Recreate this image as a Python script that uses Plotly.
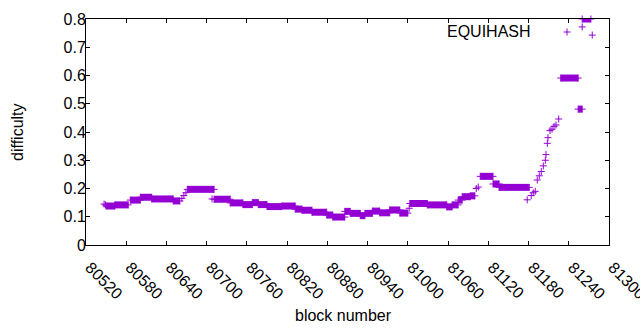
import plotly.graph_objects as go

# Runs of constant difficulty: first block, last block, difficulty
run_start = [80550, 80563, 80586, 80601, 80618, 80650, 80671, 80711, 80735, 80754,
             80768, 80777, 80790, 80812, 80832, 80842, 80857, 80879, 80888, 80906,
             80914, 80929, 80936, 80947, 80958, 80973, 80988, 81003, 81029, 81058,
             81066, 81075, 81081, 81093, 81108, 81127, 81136, 81228, 81254, 81260]
run_end = [80563, 80583, 80601, 80618, 80650, 80660, 80711, 80735, 80754, 80768,
           80777, 80790, 80812, 80832, 80842, 80857, 80879, 80888, 80906, 80914,
           80929, 80936, 80947, 80958, 80973, 80988, 81000, 81029, 81058, 81066,
           81075, 81081, 81093, 81100, 81127, 81136, 81181, 81254, 81260, 81273]
run_value = [0.138, 0.142, 0.159, 0.169, 0.163, 0.156, 0.197, 0.162, 0.149, 0.143,
             0.150, 0.143, 0.136, 0.138, 0.127, 0.123, 0.116, 0.106, 0.099, 0.119,
             0.112, 0.104, 0.112, 0.120, 0.114, 0.124, 0.113, 0.147, 0.142, 0.135,
             0.142, 0.159, 0.171, 0.174, 0.243, 0.216, 0.204, 0.591, 0.481, 0.800]

# Isolated blocks
pt_block = [80547, 80549, 80663, 80666, 80669, 80708, 81002, 81102, 81105,
            81178, 81184, 81187, 81190, 81193, 81196, 81199, 81202, 81205, 81206,
            81208, 81209, 81212, 81215, 81218, 81221, 81225, 81260, 81275]
pt_value = [0.145, 0.142, 0.165, 0.175, 0.185, 0.163, 0.130, 0.200, 0.205,
            0.160, 0.175, 0.185, 0.190, 0.230, 0.245, 0.260, 0.280, 0.300, 0.320,
            0.360, 0.380, 0.405, 0.410, 0.420, 0.425, 0.446, 0.772, 0.743]

series_name = "EQUIHASH"
x_title = "block number"
y_title = "difficulty"
x_ticks = [80520, 80580, 80640, 80700, 80760, 80820, 80880, 80940, 81000,
           81060, 81120, 81180, 81240, 81300]
y_ticks = [0, 0.1, 0.2, 0.3, 0.4, 0.5, 0.6, 0.7, 0.8]

COLOR = "#9400D3"
FONT = "Liberation Sans, Arial, sans-serif"
FS = 16

seg_x, seg_y = [], []
for s, e, v in zip(run_start, run_end, run_value):
    seg_x += [s, e, None]
    seg_y += [v, v, None]

fig = go.Figure()
fig.add_trace(go.Scatter(
    x=seg_x, y=seg_y, mode="lines+markers",
    line=dict(color=COLOR, width=7),
    marker=dict(symbol="cross-thin", size=5, color=COLOR,
                line=dict(color=COLOR, width=1)),
    cliponaxis=False, showlegend=False, hoverinfo="skip"))
fig.add_trace(go.Scatter(
    x=pt_block, y=pt_value, mode="markers",
    marker=dict(symbol="cross-thin", size=5, color=COLOR,
                line=dict(color=COLOR, width=1)),
    cliponaxis=False, name="", showlegend=True, hoverinfo="skip"))

axis_common = dict(showline=True, linecolor="black", linewidth=1, mirror="ticks",
                   ticks="inside", ticklen=4, tickcolor="black", showgrid=False,
                   zeroline=False, automargin=False, ticklabeloverflow="allow",
                   tickfont=dict(family=FONT, size=FS, color="black"))

fig.update_layout(
    width=640, height=330,
    margin=dict(l=86, r=31, t=19, b=85),
    paper_bgcolor="white", plot_bgcolor="white",
    font=dict(family=FONT, size=FS, color="black"),
    xaxis=dict(range=[x_ticks[0], x_ticks[-1]], tickvals=x_ticks,
               ticktext=[str(t) for t in x_ticks], tickangle=45,
               ticklabelstandoff=6, ticklabelshift=4, **axis_common),
    yaxis=dict(range=[y_ticks[0], y_ticks[-1]], tickvals=y_ticks,
               ticktext=[f"{t:g}" for t in y_ticks],
               ticklabelstandoff=-4, **axis_common),
    legend=dict(x=0.8815, y=0.942, xanchor="left", yanchor="middle",
                bgcolor="rgba(0,0,0,0)", borderwidth=0,
                font=dict(family=FONT, size=FS), itemwidth=30),
    annotations=[
        dict(text=series_name, xref="paper", yref="paper",
             x=(533 - 86) / 523, y=(245 - 32) / 226,
             xanchor="right", yanchor="middle", showarrow=False,
             font=dict(family=FONT, size=FS, color="black")),
        dict(text=x_title, xref="paper", yref="paper", x=0.4914, y=-0.31,
             xanchor="center", yanchor="middle", showarrow=False,
             font=dict(family=FONT, size=FS, color="black")),
        dict(text=y_title, xref="paper", yref="paper", x=-0.132, y=0.5,
             xanchor="center", yanchor="middle", showarrow=False, textangle=-90,
             font=dict(family=FONT, size=FS, color="black")),
    ],
)

fig.write_html("out.html", config={"displayModeBar": False},
               post_script="document.body.style.margin='0px';"
                           "document.body.style.overflow='hidden';")
